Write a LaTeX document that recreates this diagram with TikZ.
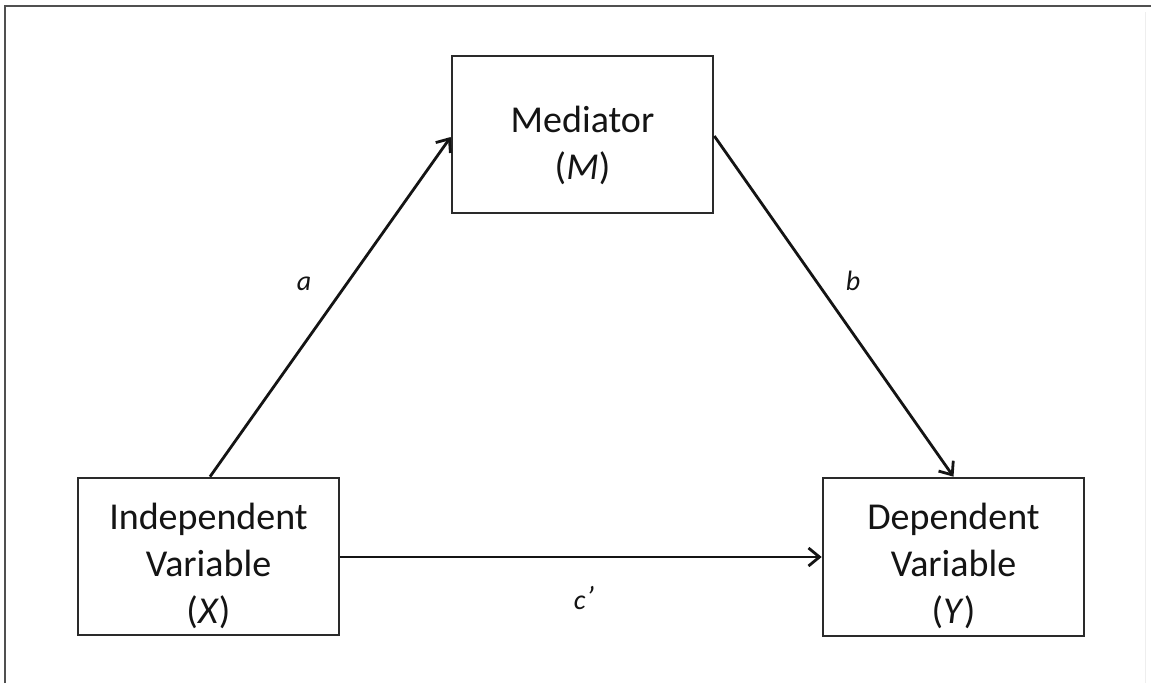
\documentclass[tikz,border=0pt]{standalone}
\usepackage{fontspec}
\setmainfont{Carlito}
\usetikzlibrary{arrows.meta}
\definecolor{boxline}{HTML}{2A2A2A}
\definecolor{frameline}{HTML}{505050}
\definecolor{faint}{HTML}{EEEEEE}
\begin{document}
\begin{tikzpicture}[x=1pt,y=-1pt,
  box/.style={draw=boxline,line width=2.6pt,minimum width=261pt,minimum height=157pt,inner sep=0pt,fill=white},
  txt/.style={align=center,font=\fontsize{38}{47}\selectfont,text=black!92,inner sep=0pt},
  lab/.style={font=\fontsize{28}{30}\selectfont\itshape,text=black!92,inner sep=0pt},
  conn/.style={draw=black!92,line width=2.8pt,-{Straight Barb[length=11pt,width=18pt,line width=2.8pt]}}
]
\useasboundingbox (0,0) rectangle (1151,683);
\fill[white] (0,0) rectangle (1151,683);
% frame
\coordinate (f1) at (4.5,683);
\coordinate (f2) at (4.5,5.5);
\coordinate (f3) at (1151,5.5);
\draw[frameline,line width=2pt] (f1) -- (f2) -- (f3);
\coordinate (r1) at (1145.5,12);
\coordinate (r2) at (1145.5,683);
\draw[faint,line width=1.5pt] (r1) -- (r2);
% boxes
\node[box] (M) at (582.5,134.5) {};
\node[box] (X) at (208.5,556.5) {};
\node[box,minimum height=158pt] (Y) at (953.5,557) {};
\node[txt] (Mt) at (582.5,145) {Mediator\\(\textit{M})};
\node[txt] (Xt) at (208.5,566) {Independent\\Variable\\(\textit{X})};
\node[txt] (Yt) at (953.5,566) {Dependent\\Variable\\(\textit{Y})};
% connectors
\draw[conn] (X.north -| 210,0) -- (M.west |- 0,137);
\draw[conn] (M.east |- 0,136) -- (Y.north);
\draw[conn] (X.east |- 0,557) -- (Y.west |- 0,557);
% labels
\node[lab] (la) at (304,284) {a};
\node[lab] (lb) at (853,281) {b};
\node[lab] (lc) at (584,598) {c\kern0.5pt\raisebox{1pt}{\fontsize{32}{32}\selectfont ’}};
\end{tikzpicture}
\end{document}
